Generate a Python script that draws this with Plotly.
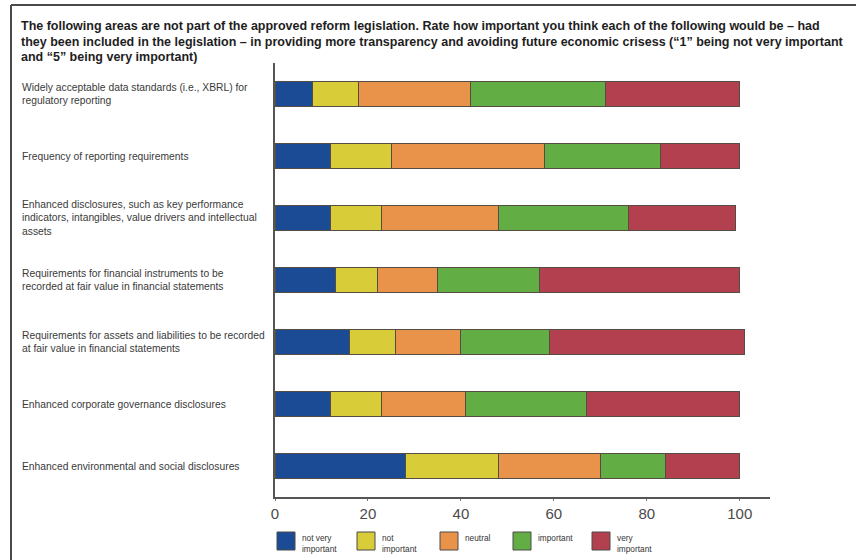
import plotly.graph_objects as go

W, H = 856, 560

categories = [
    "Widely acceptable data standards (i.e., XBRL) for<br>regulatory reporting",
    "Frequency of reporting requirements",
    "Enhanced disclosures, such as key performance<br>indicators, intangibles, value drivers and intellectual<br>assets",
    "Requirements for financial instruments to be<br>recorded at fair value in financial statements",
    "Requirements for assets and liabilities to be recorded<br>at fair value in financial statements",
    "Enhanced corporate governance disclosures",
    "Enhanced environmental and social disclosures",
]

not_very_important = [8, 12, 12, 13, 16, 12, 28]
not_important = [10, 13, 11, 9, 10, 11, 20]
neutral = [24, 33, 25, 13, 14, 18, 22]
important = [29, 25, 28, 22, 19, 26, 14]
very_important = [29, 17, 23, 43, 42, 33, 16]

series_names = ["not very important", "not important", "neutral", "important", "very important"]
legend_labels = ["not very<br>important", "not<br>important", "neutral", "important", "very<br>important"]
series_values = [not_very_important, not_important, neutral, important, very_important]
colors = ["#1c4b96", "#d8cd38", "#e8924a", "#63ad45", "#b3404e"]

x_ticks = [0, 20, 40, 60, 80, 100]

title_lines = [
    "The following areas are not part of the approved reform legislation. Rate how important you think each of the following would be \u2013 had",
    "they been included in the legislation \u2013 in providing more transparency and avoiding future economic crisess (\u201c1\u201d being not very important",
    "and \u201c5\u201d being very important)",
]

# layout geometry (pixels)
ML, MR, MT, MB = 275, 86, 63, 63
PW = W - ML - MR
PH = H - MT - MB
X_MAX = 106.5

FONT = "Liberation Sans, Arial, sans-serif"

def px_x(px):
    return (px - ML) / PW

def px_y(py):
    return 1 - (py - MT) / PH

fig = go.Figure()
for name, vals, col in zip(series_names, series_values, colors):
    fig.add_trace(go.Bar(
        y=categories, x=vals, name=name, orientation="h",
        marker=dict(color=col, line=dict(color="#554c44", width=1)),
        width=0.4, showlegend=False,
    ))

annotations = []
for i, line in enumerate(title_lines):
    annotations.append(dict(
        text="<b>" + line + "</b>", xref="paper", yref="paper",
        x=px_x(19), y=px_y(26 + i * 15.5), xanchor="left", yanchor="middle",
        showarrow=False, align="left",
        font=dict(family=FONT, size=12.5, color="#1e1e1e"),
    ))

for cat in categories:
    annotations.append(dict(
        text=cat, xref="paper", yref="y", x=px_x(20), y=cat,
        xanchor="left", yanchor="middle", showarrow=False, align="left",
        font=dict(family=FONT, size=10.3, color="#3a3a3a"),
    ))

legend_px = [277, 357, 440, 513, 592]
shapes = []
for lx, lab, col in zip(legend_px, legend_labels, colors):
    shapes.append(dict(
        type="rect", xref="paper", yref="paper",
        x0=px_x(lx), x1=px_x(lx + 18), y0=px_y(550), y1=px_y(532),
        fillcolor=col, line=dict(color="#4a4a4a", width=1),
    ))
    annotations.append(dict(
        text=lab, xref="paper", yref="paper", x=px_x(lx + 23), y=px_y(531),
        xanchor="left", yanchor="top", showarrow=False, align="left",
        font=dict(family=FONT, size=8.3, color="#333333"),
    ))

# frame lines
shapes.append(dict(type="line", xref="paper", yref="paper",
                   x0=px_x(11), x1=px_x(W + 5), y0=px_y(5), y1=px_y(5),
                   line=dict(color="#4a4a4a", width=2)))
shapes.append(dict(type="line", xref="paper", yref="paper",
                   x0=px_x(11), x1=px_x(11), y0=px_y(5), y1=px_y(H + 5),
                   line=dict(color="#4a4a4a", width=2)))

fig.update_layout(
    width=W, height=H,
    margin=dict(l=ML, r=MR, t=MT, b=MB),
    barmode="stack",
    plot_bgcolor="white", paper_bgcolor="white",
    annotations=annotations, shapes=shapes,
    xaxis=dict(range=[0, X_MAX], tickvals=x_ticks, showgrid=False, zeroline=False,
               showline=True, linecolor="#555555", linewidth=1.5,
               ticks="outside", ticklen=2, tickcolor="#777777",
               tickfont=dict(family=FONT, size=15, color="#4a4a4a")),
    yaxis=dict(autorange="reversed", showticklabels=False, showgrid=False, zeroline=False,
               showline=True, linecolor="#555555", linewidth=1.5, ticks=""),
)

fig.write_html("out.html")
